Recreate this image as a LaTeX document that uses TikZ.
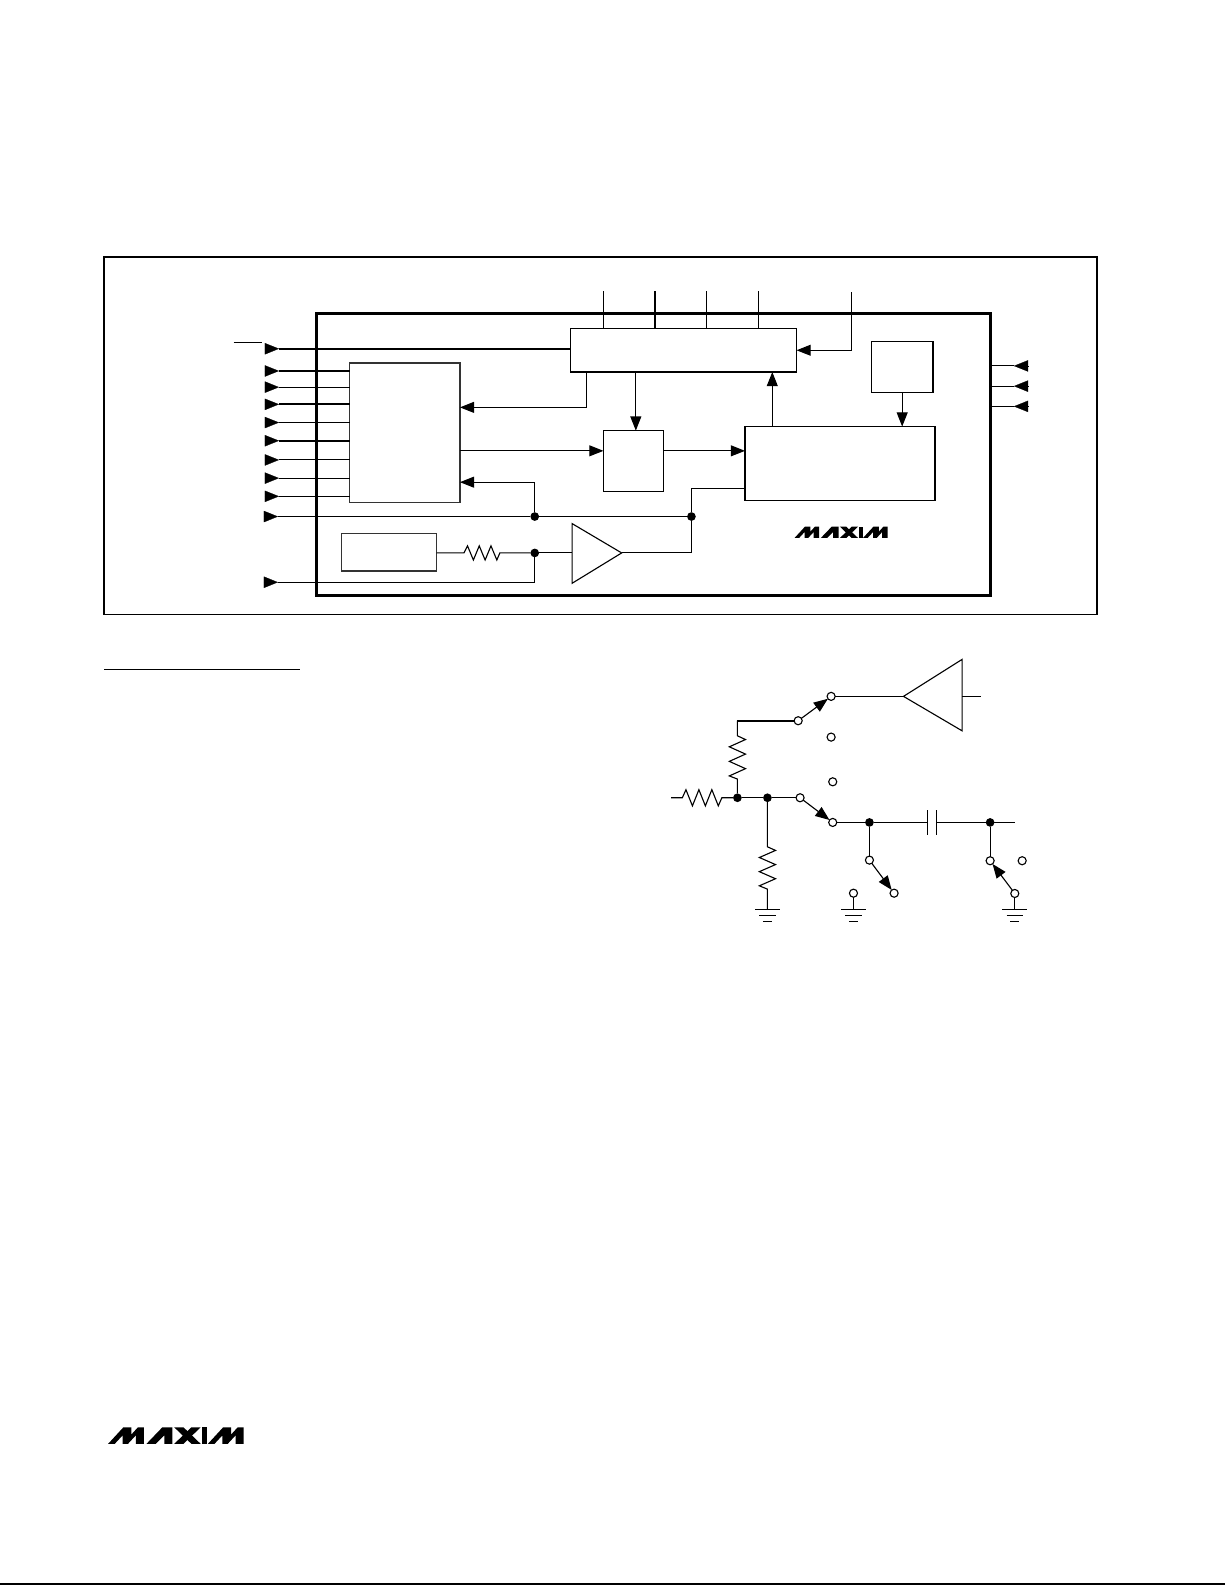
\documentclass[tikz,border=0pt]{standalone}
\usetikzlibrary{arrows.meta,calc}
\def\U{0.5pt}
\tikzset{
  wire/.style={line width=0.55pt,line join=miter},
  flow/.style={wire,-{Triangle[length=7pt,width=5.4pt]}},
  head/.style={line width=0.1pt,-{Triangle[length=7pt,width=5.6pt]}},
  outerframe/.style={draw,line width=0.8pt},
  innerframe/.style={draw,line width=1.25pt},
  blockbox/.style={draw,line width=0.55pt,fill=white,inner sep=0pt,outer sep=0pt,anchor=north west},
  tcontact/.style={circle,draw,line width=0.55pt,fill=white,inner sep=0pt,outer sep=0pt,minimum size=8*\U},
  junction/.style={circle,fill=black,inner sep=0pt,outer sep=0pt,minimum size=8.6*\U},
}
\newcommand{\maximM}[1]{%
  \fill[shift={(#1,0)}] (0,50) -- (46,0) -- (70,0) -- (70,22) -- (90,0) -- (108,0) -- (108,50) -- (84,50) -- (84,24) -- (60,50) -- (44,50) -- (44,24) -- (20,50) -- cycle;}
\newcommand{\maximlogo}[3]{% x, y (top left), width; logo drawn in a 410 x 50 grid
  \begin{scope}[shift={(#1,#2)},xscale=#3/410,yscale=#3/410*1.0]
    \maximM{0}
    \fill (116,50) -- (164,0) -- (194,0) -- (194,50) -- (170,50) -- (170,24) -- (144,50) -- cycle;
    \fill (200,0) -- (228,0) -- (280,50) -- (252,50) -- cycle;
    \fill (252,0) -- (280,0) -- (228,50) -- (200,50) -- cycle;
    \fill (284,0) -- (300,0) -- (300,50) -- (284,50) -- cycle;
    \maximM{302}
  \end{scope}}
\newcommand{\groundsym}[1]{%
  \draw[wire] ($(#1)+(-12.2,0)$) -- ($(#1)+(12.2,0)$);
  \draw[wire] ($(#1)+(-8,6)$) -- ($(#1)+(8,6)$);
  \draw[wire] ($(#1)+(-4.5,12)$) -- ($(#1)+(4.5,12)$);}
\begin{document}
\begin{tikzpicture}[x=0.5pt,y=-0.5pt]
\useasboundingbox (0,0) rectangle (1212,1568);
\fill[white] (0,0) rectangle (1212,1568);

% frames
\draw[outerframe] (103,254) rectangle (1085,608);
\draw[innerframe] (313,310) rectangle (980,589);

% blocks
\node[blockbox,minimum width=224*\U,minimum height=43*\U] (ctrl) at (564,325) {};
\node[blockbox,minimum width=109*\U,minimum height=138*\U,draw=black!80,line width=0.7pt] (logic) at (346,359) {};
\node[blockbox,minimum width=59*\U,minimum height=60*\U] (mux) at (597,426) {};
\node[blockbox,minimum width=188*\U,minimum height=73*\U] (adc) at (737,422) {};
\node[blockbox,minimum width=61*\U,minimum height=50*\U] (clk) at (862,338) {};
\node[blockbox,minimum width=94*\U,minimum height=37*\U,draw=black!80,line width=0.7pt] (ref) at (338,528) {};

% overbar
\coordinate (barA) at (231,339);
\coordinate (barB) at (259,339);
\draw[wire] (barA) -- (barB);

% top pins
\foreach \n/\x in {1/597,2/648,3/699,4/750}{
  \coordinate (top\n) at (\x,288);
  \draw[wire] (top\n) -- (top\n |- ctrl.north);
}
\coordinate (top5) at (842,289);
\draw[flow] (top5) |- (ctrl.east);

% heavy input into control block
\coordinate (inA) at (262,345);
\coordinate (inAt) at (276,345);
\draw[head] (inA) -- (inAt);
\draw[line width=1.05pt] (inAt) -- (inAt -| ctrl.west);

% left inputs into logic block
\foreach \n/\y/\w in {1/367/0.55,2/383/0.55,3/400/0.85,4/418/0.55,5/436/0.85,6/455/0.55,7/473/0.55,8/491/0.55}{
  \coordinate (in\n) at (262,\y);
  \coordinate (in\n t) at (276,\y);
  \draw[head] (in\n) -- (in\n t);
  \draw[line width=\w pt] (in\n t) -- (in\n t -| logic.west);
}

% bus
\node[junction] (j1) at (529,511) {};
\node[junction] (j2) at (684,511) {};
\node[junction] (j3) at (529,547) {};
\coordinate (in9) at (261,511);
\coordinate (in9t) at (275,511);
\draw[head] (in9) -- (in9t);
\draw[wire] (in9t) -- (j1) -- (j2);
\coordinate (in10) at (261,576);
\coordinate (in10t) at (275,576);
\draw[head] (in10) -- (in10t);
\draw[wire] (in10t) -| (j3);
\draw[flow] (j1) |- (logic.east |- 0,477);

% control/logic/mux/adc links
\coordinate (cd) at (580,368);
\draw[flow] (cd) |- (logic.east |- 0,403);
\draw[flow] (mux.north |- ctrl.south) ++(2.5,0) coordinate (cm) -- (cm |- mux.north);
\draw[flow] (logic.east |- 0,446) -- (mux.west |- 0,446);
\draw[flow] (mux.east |- 0,446) -- (adc.west |- 0,446);
\coordinate (au) at (764,422);
\draw[flow] (au) -- (au |- ctrl.south);
\draw[flow] (clk.south) -- (clk.south |- adc.north);

% amplifier
\coordinate (ampA) at (566,518);
\coordinate (ampB) at (566,577);
\coordinate (ampC) at (615,547);
\draw[wire,line join=miter] (ampA) -- (ampC) -- (ampB) -- cycle;
\draw[wire] (j3) -- (j3 -| ampA);
\draw[wire] (ampC) -| (j2);
\draw[wire] (j2) |- (adc.west |- 0,483);

% resistor to reference
\coordinate (rA) at (459,547);
\draw[wire] (ref.east |- j3) -- (rA) -- ++(3.5,-7) -- ++(5.8,14) -- ++(5.8,-14) -- ++(5.8,14) -- ++(5.8,-14) -- ++(5.8,14) -- ++(3,-7) -- (j3);

% right pins
\foreach \n/\y in {1/362,2/382,3/402}{
  \coordinate (rp\n) at (981,\y);
  \coordinate (rp\n t) at (1003,\y);
  \coordinate (rp\n e) at (1017,\y);
  \draw[wire] (rp\n) -- (rp\n t);
  \draw[head] (rp\n e) -- (rp\n t);
}

% logos
\maximlogo{786}{521}{92}
\maximlogo{107}{1412}{134}

% section rule, page rule
\coordinate (ulA) at (103,662);
\coordinate (ulB) at (297,662);
\draw[line width=0.6pt] (ulA) -- (ulB);
\coordinate (pgA) at (0,1567);
\coordinate (pgB) at (1212,1567);
\draw[line width=0.8pt] (pgA) -- (pgB);

% ---- switch network ----
\node[tcontact] (s1) at (822.2,688.9) {};
\node[tcontact] (s2) at (789.6,713) {};
\node[tcontact] (s3) at (822.2,729.2) {};
\node[tcontact] (s4) at (823.8,773.4) {};
\node[tcontact] (s5) at (791.5,789.2) {};
\node[tcontact] (s6) at (823.8,813.6) {};
\node[tcontact] (s7) at (860.1,850.9) {};
\node[tcontact] (s8) at (884.5,883.6) {};
\node[tcontact] (s9) at (844.3,883.6) {};
\node[tcontact] (s10) at (979.5,851.5) {};
\node[tcontact] (s11) at (1011.2,851.5) {};
\node[tcontact] (s12) at (1003.9,883.9) {};
\node[junction] (d1) at (729.5,789.2) {};
\node[junction] (d2) at (759.2,789.2) {};
\node[junction] (d3) at (860.1,813.6) {};
\node[junction] (d4) at (979.5,813.6) {};

% output amplifier
\coordinate (oA) at (893.8,688.9);
\coordinate (oB) at (951.8,652.3);
\coordinate (oC) at (951.8,723);
\coordinate (oD) at (951.8,688.9);
\coordinate (oE) at (970.6,688.9);
\draw[wire] (oA) -- (oB) -- (oC) -- cycle;
\draw[wire] (oD) -- (oE);
\draw[wire] (s1) -- (oA);

% switches
\draw[flow] (s2) -- (s1);
\draw[flow] (s5) -- (s6);
\draw[flow] (s7) -- (s8);
\draw[flow] (s12) -- (s10);

% top resistor
\coordinate (rtop) at (729.5,713);
\coordinate (rtopA) at (729.5,727.9);
\draw[line width=0.85pt] (s2) -- (rtop);
\draw[wire] (rtop) -- (rtopA) -- ++(8,3.7) -- ++(-16,7.2) -- ++(16,7.2) -- ++(-16,7.2) -- ++(16,7.2) -- ++(-16,7.2) -- ++(8,3.1) -- (d1);

% left resistor
\coordinate (rlS) at (664,789.2);
\coordinate (rlA) at (675,789.2);
\draw[wire] (rlS) -- (rlA) -- ++(3.6,-8) -- ++(6.4,16) -- ++(6.4,-16) -- ++(6.4,16) -- ++(6.4,-16) -- ++(6.4,16) -- ++(3.5,-8) -- (d1);

\draw[wire] (d1) -- (d2) -- (s5);

% lower resistor
\coordinate (rbA) at (759.2,837.7);
\coordinate (g1) at (759.2,899.7);
\draw[wire] (d2) -- (rbA) -- ++(8,3.6) -- ++(-16,7) -- ++(16,7) -- ++(-16,7) -- ++(16,7) -- ++(-16,7) -- ++(8,3.3) -- (g1);
\groundsym{g1}

% output line with capacitor
\coordinate (cL) at (917.5,813.6);
\coordinate (cR) at (926.8,813.6);
\coordinate (wE) at (1003.9,813.6);
\draw[wire] (s6) -- (d3) -- (cL);
\draw[wire] (cR) -- (d4) -- (wE);
\draw[wire] ($(cL)+(0,-12)$) -- ($(cL)+(0,12)$);
\draw[wire] ($(cR)+(0,-12)$) -- ($(cR)+(0,12)$);
\draw[wire] (d3) -- (s7);
\draw[wire] (d4) -- (s10);

% grounds
\coordinate (g2) at (844.3,899.7);
\coordinate (g3) at (1003.9,899.7);
\draw[wire] (s9) -- (g2);
\draw[wire] (s12) -- (g3);
\groundsym{g2}
\groundsym{g3}
\end{tikzpicture}
\end{document}
